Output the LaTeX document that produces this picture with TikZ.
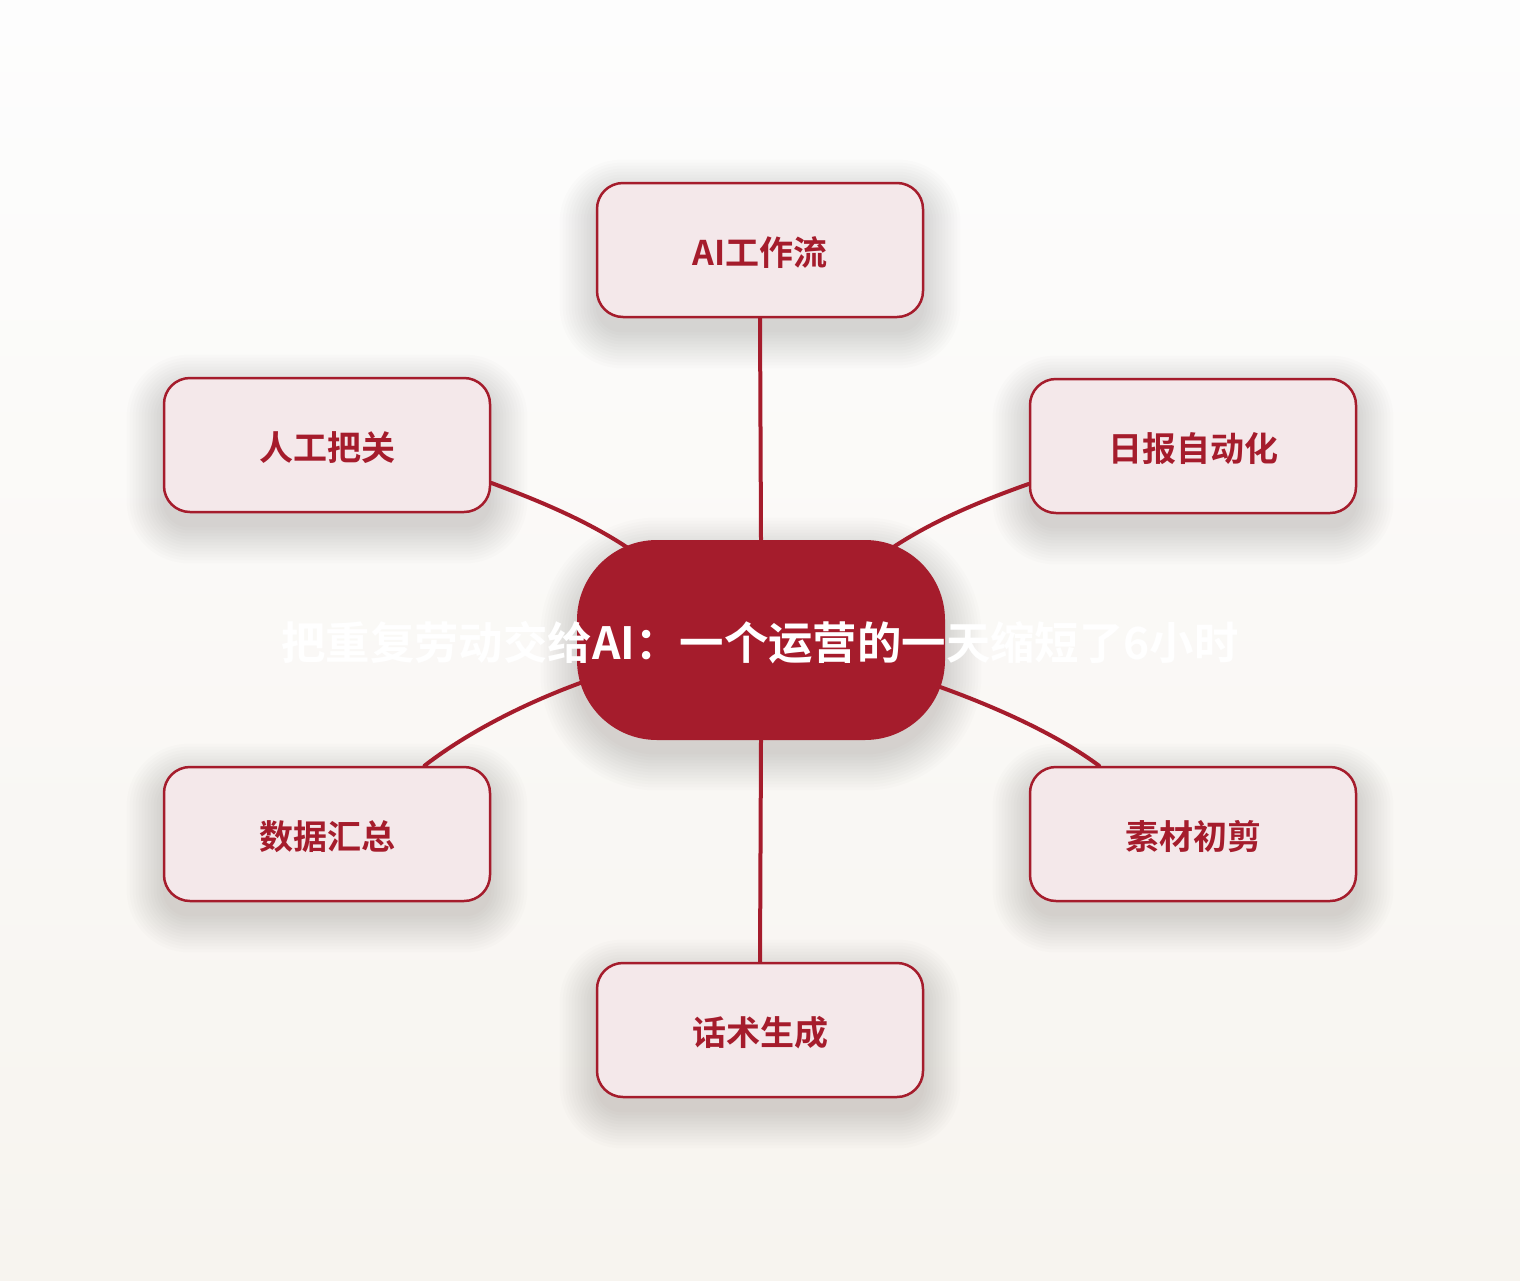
\documentclass[tikz,border=0pt]{standalone}
\usepackage{fontspec}
\newfontfamily\cjk{Noto Sans CJK SC}[BoldFont={Noto Sans CJK SC Bold}]
\usetikzlibrary{calc}
\definecolor{accent}{HTML}{A51C2C}
\definecolor{boxfill}{HTML}{F4E8EA}
\definecolor{bgtop}{HTML}{FDFDFD}
\definecolor{bgbot}{HTML}{F7F4EF}
\definecolor{shadowcol}{HTML}{5A5040}
\pgfdeclarelayer{bg}
\pgfdeclarelayer{shadowlayer}
\pgfdeclarelayer{links}
\pgfsetlayers{bg,shadowlayer,links,main}
\tikzset{
  topic/.style={draw=accent, line width=1.25pt, fill=boxfill, rounded corners=13pt,
    minimum width=163pt, minimum height=67pt, inner sep=0pt,
    text=accent, font=\cjk\bfseries\fontsize{17pt}{20pt}\selectfont},
  topictext/.style={text=accent, font=\cjk\bfseries\fontsize{17pt}{20pt}\selectfont, inner sep=0pt},
  hub/.style={fill=accent, rounded corners=40pt, minimum width=184pt, minimum height=100pt,
    inner sep=0pt},
  hubtext/.style={text=white, font=\cjk\bfseries\fontsize{22.2pt}{26pt}\selectfont, inner sep=0pt},
  link/.style={draw=accent, line width=2pt, line cap=round},
  shadowpiece/.style={fill=shadowcol, opacity=0.014}
}
\newcommand\softshadow[2]{%
  \foreach \k in {0,...,12}{%
    \fill[shadowpiece, rounded corners={#2+1.5pt*\k}]
      ($(#1.south west)+(-3*\k,14+3*\k)$) rectangle ($(#1.north east)+(3*\k,14-3*\k)$);
  }%
}
\begin{document}
\begin{tikzpicture}[x=0.5pt, y=-0.5pt]
\begin{pgfonlayer}{bg}
  \shade[top color=bgtop, bottom color=bgbot] (0,0) rectangle (1520,1280);
\end{pgfonlayer}
\useasboundingbox (0,0) rectangle (1520,1280);

\node[hub] (c) at (761,640) {};
\node[hubtext] (t) at (760,643) {把重复劳动交给AI：一个运营的一天缩短了6小时};

\node[topic] (n0) at (760,250) {};
\node[topic] (n1) at (327,445) {};
\node[topic] (n2) at (1193,446) {};
\node[topic] (n4) at (327,834) {};
\node[topic] (n5) at (1193,834) {};
\node[topic] (n6) at (760,1030) {};
\node[topictext] (l0) at (760,253) {AI工作流};
\node[topictext] (l1) at (327,448) {人工把关};
\node[topictext] (l2) at (1193,449) {日报自动化};
\node[topictext] (l4) at (327,837) {数据汇总};
\node[topictext] (l5) at (1193,837) {素材初剪};
\node[topictext] (l6) at (760,1033) {话术生成};

\begin{pgfonlayer}{shadowlayer}
  \softshadow{c}{40pt}
  \softshadow{n0}{13pt}
  \softshadow{n1}{13pt}
  \softshadow{n2}{13pt}
  \softshadow{n4}{13pt}
  \softshadow{n5}{13pt}
  \softshadow{n6}{13pt}
\end{pgfonlayer}

\begin{pgfonlayer}{links}
  \draw[link] (n0.south) -- (c.north);
  \draw[link] (c.south) -- (n6.north);
  \draw[link] (n1.-13.5) .. controls (545,503) and (600,526) .. (645,560);
  \draw[link] (n2.193.5) .. controls (975,503) and (920,526) .. (875,560);
  \draw[link] (n4.35.8) .. controls (460,738) and (520,703) .. (600,676);
  \draw[link] (n5.144.2) .. controls (1062,738) and (1000,707) .. (920,680);
\end{pgfonlayer}
\end{tikzpicture}
\end{document}
